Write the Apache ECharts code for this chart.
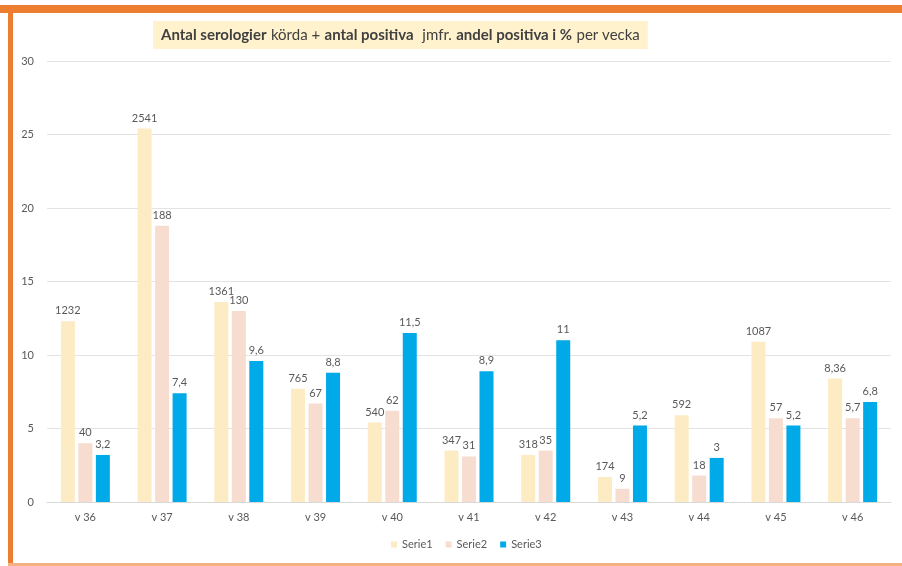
<!DOCTYPE html>
<html>
<head>
<meta charset="utf-8">
<script src="https://cdn.jsdelivr.net/npm/echarts@6/dist/echarts.min.js"></script>
<style>
html,body{margin:0;padding:0;background:#fff;}
#c{width:902px;height:566px;}
</style>
</head>
<body>
<div id="c"></div>
<script>
const categories = ['v 36','v 37','v 38','v 39','v 40','v 41','v 42','v 43','v 44','v 45','v 46'];
const serie1 = [12.3, 25.4, 13.6, 7.7, 5.4, 3.5, 3.2, 1.7, 5.9, 10.9, 8.4];
const serie2 = [4.0, 18.8, 13.0, 6.7, 6.2, 3.1, 3.5, 0.9, 1.8, 5.7, 5.7];
const serie3 = [3.2, 7.4, 9.6, 8.8, 11.5, 8.9, 11, 5.2, 3, 5.2, 6.8];
// data label texts shown above the bars
const labels1 = ['1232','2541','1361','765','540','347','318','174','592','1087','8,36'];
const labels2 = ['40','188','130','67','62','31','35','9','18','57','5,7'];
const labels3 = ['3,2','7,4','9,6','8,8','11,5','8,9','11','5,2','3','5,2','6,8'];
const seriesNames = ['Serie1','Serie2','Serie3'];
const yTicks = {min: 0, max: 30, interval: 5};

const FONT = 'Lato';
const chart = echarts.init(document.getElementById('c'));

function mkSeries(name, data, labs, color) {
  return {
    name: name,
    type: 'bar',
    data: data,
    barWidth: 14,
    barGap: '25%',
    itemStyle: {color: color},
    label: {
      show: true,
      position: 'top',
      distance: 5,
      color: '#595959',
      fontFamily: FONT,
      fontSize: 11,
      formatter: p => labs[p.dataIndex]
    }
  };
}

chart.setOption({
  animation: false,
  backgroundColor: '#ffffff',
  textStyle: {fontFamily: FONT},
  title: {
    left: 153,
    top: 21,
    padding: [5, 8, 5, 8],
    backgroundColor: '#FFF2CC',
    text: '{b|Antal serologier} {n|körda +} {b|antal positiva}  {n|jmfr.} {b|andel positiva i %} {n|per vecka}',
    textStyle: {
      rich: {
        b: {fontFamily: FONT, fontSize: 15, fontWeight: 'bold', color: '#404040'},
        n: {fontFamily: FONT, fontSize: 15, fontWeight: 'normal', color: '#404040'}
      }
    }
  },
  graphic: [
    {type: 'rect', shape: {x: 0, y: 5, width: 902, height: 8}, style: {fill: '#ED7D31'}, z: 100},
    {type: 'rect', shape: {x: 8, y: 5, width: 5, height: 561}, style: {fill: '#ED7D31'}, z: 100},
    {type: 'rect', shape: {x: 8, y: 563, width: 894, height: 3}, style: {fill: '#F4B183'}, z: 100}
  ],
  legend: {
    data: seriesNames,
    bottom: 11,
    left: 386,
    itemWidth: 6,
    itemHeight: 6,
    itemGap: 13,
    icon: 'rect',
    textStyle: {color: '#595959', fontSize: 11, fontFamily: FONT}
  },
  grid: {left: 47, right: 11, top: 61, bottom: 64},
  xAxis: {
    type: 'category',
    data: categories,
    axisLine: {lineStyle: {color: '#D9D9D9'}},
    axisTick: {show: false},
    axisLabel: {color: '#595959', fontSize: 11, fontFamily: FONT, margin: 10}
  },
  yAxis: {
    type: 'value',
    min: yTicks.min,
    max: yTicks.max,
    interval: yTicks.interval,
    axisLine: {show: false},
    axisTick: {show: false},
    splitLine: {lineStyle: {color: '#E3E3E3'}},
    axisLabel: {color: '#595959', fontSize: 11, fontFamily: FONT, margin: 13}
  },
  series: [
    mkSeries(seriesNames[0], serie1, labels1, '#FDEBC3'),
    mkSeries(seriesNames[1], serie2, labels2, '#F7DDD0'),
    mkSeries(seriesNames[2], serie3, labels3, '#00A9E8')
  ]
});
</script>
</body>
</html>
